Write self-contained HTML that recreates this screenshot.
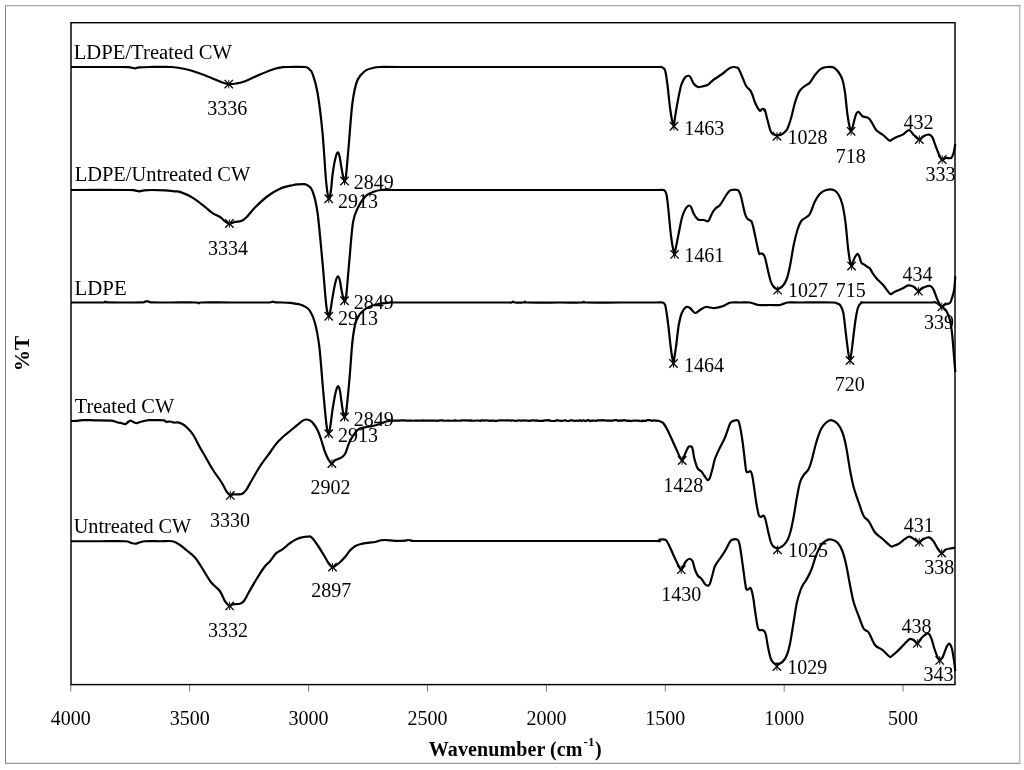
<!DOCTYPE html>
<html lang="en"><head><meta charset="utf-8"><title>FTIR spectra</title>
<style>
html,body{margin:0;padding:0;background:#fff;}
body{width:1024px;height:770px;overflow:hidden;}
svg{display:block;}
text{font-family:"Liberation Serif","Times New Roman",serif;font-size:20px;fill:#000;}
.b{font-weight:bold;}
.c{fill:none;stroke:#000;stroke-width:2.2;stroke-linejoin:round;stroke-linecap:butt;}
</style></head><body>
<svg width="1024" height="770" viewBox="0 0 1024 770">
<rect x="0" y="0" width="1024" height="770" fill="#fff"/>
<path d="M5.5 5.1V763.8M5 763.3H1020.3" fill="none" stroke="#808080" stroke-width="1"/>
<path d="M5 5.6H1020.3M1019.8 5.1V763.8" fill="none" stroke="#a6a6a6" stroke-width="1.1"/>

<g stroke="#777" stroke-width="1">
<line x1="70.80" y1="685" x2="70.80" y2="691.5"/>
<line x1="189.70" y1="685" x2="189.70" y2="691.5"/>
<line x1="308.60" y1="685" x2="308.60" y2="691.5"/>
<line x1="427.50" y1="685" x2="427.50" y2="691.5"/>
<line x1="546.40" y1="685" x2="546.40" y2="691.5"/>
<line x1="665.30" y1="685" x2="665.30" y2="691.5"/>
<line x1="784.20" y1="685" x2="784.20" y2="691.5"/>
<line x1="903.10" y1="685" x2="903.10" y2="691.5"/>
</g>
<path class="c" d="M71.00 67.00C79.17 67.00 110.17 66.95 120.00 67.00C129.83 67.05 127.50 67.07 130.00 67.30C132.50 67.53 133.50 68.38 135.00 68.40C136.50 68.42 136.50 67.63 139.00 67.40C141.50 67.17 144.50 67.07 150.00 67.00C155.50 66.93 166.17 66.67 172.00 67.00C177.83 67.33 180.33 67.92 185.00 69.00C189.67 70.08 195.00 71.75 200.00 73.50C205.00 75.25 211.00 77.92 215.00 79.50C219.00 81.08 221.71 82.23 224.00 83.00C226.29 83.77 226.75 84.02 228.75 84.10C230.75 84.18 233.29 83.97 236.00 83.50C238.71 83.03 241.00 82.75 245.00 81.25C249.00 79.75 255.00 76.58 260.00 74.50C265.00 72.42 271.25 69.97 275.00 68.75C278.75 67.53 280.00 67.49 282.50 67.20C285.00 66.91 286.25 67.03 290.00 67.00C293.75 66.97 301.83 66.67 305.00 67.00C308.17 67.33 307.75 67.88 309.00 69.00C310.25 70.12 311.08 69.83 312.50 73.75C313.92 77.67 315.83 82.71 317.50 92.50C319.17 102.29 321.08 117.92 322.50 132.50C323.92 147.08 324.96 168.96 326.00 180.00C327.04 191.04 327.92 197.08 328.75 198.75C329.58 200.42 330.38 193.96 331.00 190.00C331.62 186.04 331.83 180.00 332.50 175.00C333.17 170.00 334.17 163.75 335.00 160.00C335.83 156.25 336.75 153.17 337.50 152.50C338.25 151.83 338.92 153.92 339.50 156.00C340.08 158.08 340.42 161.67 341.00 165.00C341.58 168.33 342.42 173.33 343.00 176.00C343.58 178.67 344.00 181.00 344.50 181.00C345.00 181.00 345.29 182.00 346.00 176.00C346.71 170.00 347.67 157.25 348.75 145.00C349.83 132.75 351.04 113.33 352.50 102.50C353.96 91.67 355.42 85.25 357.50 80.00C359.58 74.75 362.58 72.97 365.00 71.00C367.42 69.03 369.50 68.87 372.00 68.20C374.50 67.53 375.33 67.20 380.00 67.00C384.67 66.80 380.00 67.00 400.00 67.00C420.00 67.00 466.67 67.00 500.00 67.00C533.33 67.00 574.17 67.00 600.00 67.00C625.83 67.00 644.79 67.00 655.00 67.00C665.21 67.00 659.75 66.75 661.25 67.00C662.75 67.25 663.29 67.67 664.00 68.50C664.71 69.33 664.92 69.25 665.50 72.00C666.08 74.75 666.75 79.08 667.50 85.00C668.25 90.92 669.25 101.67 670.00 107.50C670.75 113.33 671.35 116.88 672.00 120.00C672.65 123.12 673.48 126.08 673.90 126.25C674.32 126.42 673.90 124.96 674.50 121.00C675.10 117.04 676.38 108.50 677.50 102.50C678.62 96.50 680.00 89.17 681.25 85.00C682.50 80.83 683.75 79.04 685.00 77.50C686.25 75.96 687.75 75.67 688.75 75.75C689.75 75.83 690.17 76.67 691.00 78.00C691.83 79.33 692.58 82.25 693.75 83.75C694.92 85.25 696.62 86.54 698.00 87.00C699.38 87.46 700.42 86.83 702.00 86.50C703.58 86.17 706.00 85.75 707.50 85.00C709.00 84.25 709.75 83.04 711.00 82.00C712.25 80.96 713.08 80.12 715.00 78.75C716.92 77.38 720.50 75.21 722.50 73.75C724.50 72.29 725.75 70.96 727.00 70.00C728.25 69.04 728.88 68.50 730.00 68.00C731.12 67.50 732.67 67.08 733.75 67.00C734.83 66.92 735.67 67.17 736.50 67.50C737.33 67.83 737.75 67.33 738.75 69.00C739.75 70.67 741.25 74.62 742.50 77.50C743.75 80.38 745.00 84.17 746.25 86.25C747.50 88.33 748.96 88.54 750.00 90.00C751.04 91.46 751.67 92.92 752.50 95.00C753.33 97.08 753.83 99.92 755.00 102.50C756.17 105.08 758.42 109.33 759.50 110.50C760.58 111.67 760.92 109.79 761.50 109.50C762.08 109.21 762.50 108.58 763.00 108.75C763.50 108.92 764.17 110.29 764.50 110.50C764.83 110.71 764.50 108.42 765.00 110.00C765.50 111.58 766.57 116.50 767.50 120.00C768.43 123.50 769.60 128.60 770.60 131.00C771.60 133.40 772.43 133.67 773.50 134.40C774.57 135.13 775.75 135.33 777.00 135.40C778.25 135.47 779.75 135.32 781.00 134.80C782.25 134.28 783.42 133.35 784.50 132.30C785.58 131.25 786.38 130.97 787.50 128.50C788.62 126.03 790.00 121.83 791.25 117.50C792.50 113.17 793.75 106.67 795.00 102.50C796.25 98.33 797.50 94.95 798.75 92.50C800.00 90.05 801.29 89.00 802.50 87.80C803.71 86.60 804.75 86.18 806.00 85.30C807.25 84.42 808.50 84.22 810.00 82.50C811.50 80.78 813.33 77.17 815.00 75.00C816.67 72.83 818.50 70.75 820.00 69.50C821.50 68.25 822.75 67.92 824.00 67.50C825.25 67.08 825.88 67.00 827.50 67.00C829.12 67.00 831.88 66.58 833.75 67.50C835.62 68.42 837.29 70.42 838.75 72.50C840.21 74.58 841.46 76.67 842.50 80.00C843.54 83.33 844.17 86.67 845.00 92.50C845.83 98.33 846.67 108.96 847.50 115.00C848.33 121.04 849.40 126.03 850.00 128.75C850.60 131.47 850.68 131.43 851.10 131.30C851.52 131.18 852.06 129.47 852.50 128.00C852.94 126.53 853.12 124.88 853.75 122.50C854.38 120.12 855.42 115.50 856.25 113.75C857.08 112.00 857.71 111.58 858.75 112.00C859.79 112.42 861.04 115.33 862.50 116.25C863.96 117.17 866.25 116.92 867.50 117.50C868.75 118.08 869.17 118.66 870.00 119.70C870.83 120.74 871.40 121.93 872.50 123.75C873.60 125.57 874.83 128.72 876.60 130.60C878.37 132.47 880.98 133.35 883.10 135.00C885.22 136.65 887.82 139.75 889.30 140.50C890.78 141.25 890.83 140.05 892.00 139.50C893.17 138.95 894.50 138.02 896.30 137.20C898.10 136.38 900.68 135.77 902.80 134.60C904.92 133.43 907.17 130.13 909.00 130.20C910.83 130.27 912.08 133.43 913.80 135.00C915.52 136.57 917.85 139.23 919.30 139.60C920.75 139.97 921.38 137.97 922.50 137.20C923.62 136.43 924.90 135.43 926.00 135.00C927.10 134.57 928.03 134.23 929.10 134.60C930.17 134.97 931.32 135.30 932.40 137.20C933.48 139.10 934.33 142.72 935.60 146.00C936.87 149.28 938.89 154.65 940.00 156.90C941.11 159.15 941.21 159.32 942.25 159.50C943.29 159.68 944.75 158.27 946.25 158.00C947.75 157.73 950.00 158.85 951.25 157.90C952.50 156.95 953.08 154.65 953.75 152.30C954.42 149.95 955.04 145.22 955.30 143.80"/>
<path class="c" d="M71.00 190.00C80.50 190.00 117.42 189.93 128.00 190.00C138.58 190.07 132.58 190.18 134.50 190.40C136.42 190.62 137.92 191.32 139.50 191.30C141.08 191.28 141.92 190.52 144.00 190.30C146.08 190.08 148.50 190.00 152.00 190.00C155.50 190.00 161.17 190.08 165.00 190.30C168.83 190.52 172.50 191.03 175.00 191.30C177.50 191.57 177.08 190.85 180.00 191.90C182.92 192.95 188.33 195.10 192.50 197.60C196.67 200.10 201.67 204.32 205.00 206.90C208.33 209.48 210.00 211.43 212.50 213.10C215.00 214.77 217.92 215.54 220.00 216.90C222.08 218.26 223.43 220.15 225.00 221.25C226.57 222.35 227.73 223.39 229.40 223.50C231.07 223.61 233.03 222.32 235.00 221.90C236.97 221.48 239.38 221.73 241.25 221.00C243.12 220.27 243.96 219.75 246.25 217.50C248.54 215.25 251.46 211.04 255.00 207.50C258.54 203.96 263.33 199.38 267.50 196.25C271.67 193.12 275.83 190.59 280.00 188.75C284.17 186.91 289.50 185.94 292.50 185.20C295.50 184.46 296.12 184.48 298.00 184.30C299.88 184.12 302.17 183.92 303.75 184.10C305.33 184.28 306.04 184.25 307.50 185.40C308.96 186.55 310.83 186.48 312.50 191.00C314.17 195.52 315.83 200.58 317.50 212.50C319.17 224.42 321.04 247.08 322.50 262.50C323.96 277.92 325.21 296.04 326.25 305.00C327.29 313.96 328.04 315.42 328.75 316.25C329.46 317.08 329.88 313.12 330.50 310.00C331.12 306.88 331.67 302.17 332.50 297.50C333.33 292.83 334.58 285.54 335.50 282.00C336.42 278.46 337.25 276.42 338.00 276.25C338.75 276.08 339.46 278.92 340.00 281.00C340.54 283.08 340.75 286.08 341.25 288.75C341.75 291.42 342.46 295.00 343.00 297.00C343.54 299.00 343.97 300.92 344.50 300.75C345.03 300.58 345.42 302.38 346.20 296.00C346.98 289.62 348.07 274.75 349.20 262.50C350.33 250.25 351.53 231.67 353.00 222.50C354.47 213.33 355.92 211.87 358.00 207.50C360.08 203.13 363.08 198.83 365.50 196.30C367.92 193.77 369.92 193.35 372.50 192.30C375.08 191.25 376.42 190.38 381.00 190.00C385.58 189.62 380.17 190.00 400.00 190.00C419.83 190.00 466.67 190.00 500.00 190.00C533.33 190.00 574.17 190.00 600.00 190.00C625.83 190.00 644.47 190.00 655.00 190.00C665.53 190.00 661.48 189.75 663.20 190.00C664.92 190.25 664.70 190.50 665.30 191.50C665.90 192.50 666.28 192.92 666.80 196.00C667.32 199.08 667.72 203.50 668.40 210.00C669.08 216.50 670.15 228.67 670.90 235.00C671.65 241.33 672.28 244.77 672.90 248.00C673.52 251.23 674.15 254.23 674.60 254.40C675.05 254.57 674.97 252.23 675.60 249.00C676.23 245.77 677.33 240.25 678.40 235.00C679.47 229.75 680.80 221.88 682.00 217.50C683.20 213.12 684.39 210.75 685.60 208.75C686.81 206.75 688.27 205.62 689.25 205.50C690.23 205.38 690.75 206.62 691.50 208.00C692.25 209.38 692.67 211.83 693.75 213.75C694.83 215.67 696.33 218.46 698.00 219.50C699.67 220.54 702.08 219.71 703.75 220.00C705.42 220.29 706.96 221.58 708.00 221.25C709.04 220.92 709.25 219.46 710.00 218.00C710.75 216.54 711.50 214.17 712.50 212.50C713.50 210.83 714.75 209.25 716.00 208.00C717.25 206.75 718.29 207.17 720.00 205.00C721.71 202.83 724.75 197.25 726.25 195.00C727.75 192.75 728.17 192.33 729.00 191.50C729.83 190.67 729.83 190.25 731.25 190.00C732.67 189.75 736.12 189.58 737.50 190.00C738.88 190.42 738.88 191.25 739.50 192.50C740.12 193.75 740.33 193.96 741.25 197.50C742.17 201.04 743.96 210.21 745.00 213.75C746.04 217.29 746.46 217.50 747.50 218.75C748.54 220.00 750.33 220.04 751.25 221.25C752.17 222.46 752.38 223.71 753.00 226.00C753.62 228.29 754.04 230.58 755.00 235.00C755.96 239.42 757.83 249.42 758.75 252.50C759.67 255.58 759.88 253.29 760.50 253.50C761.12 253.71 761.75 253.08 762.50 253.75C763.25 254.42 764.17 255.04 765.00 257.50C765.83 259.96 766.57 264.58 767.50 268.50C768.43 272.42 769.56 277.92 770.60 281.00C771.64 284.08 772.57 285.68 773.75 287.00C774.93 288.32 776.24 289.02 777.70 288.90C779.16 288.78 780.97 288.03 782.50 286.30C784.03 284.57 785.65 281.88 786.90 278.50C788.15 275.12 788.86 271.62 790.00 266.00C791.14 260.38 792.50 250.79 793.75 244.75C795.00 238.71 796.25 233.71 797.50 229.75C798.75 225.79 799.79 223.08 801.25 221.00C802.71 218.92 804.79 218.46 806.25 217.25C807.71 216.04 808.54 216.42 810.00 213.75C811.46 211.08 813.33 204.58 815.00 201.25C816.67 197.92 818.12 195.62 820.00 193.75C821.88 191.88 823.96 190.62 826.25 190.00C828.54 189.38 831.67 189.17 833.75 190.00C835.83 190.83 837.29 192.50 838.75 195.00C840.21 197.50 841.38 200.42 842.50 205.00C843.62 209.58 844.58 215.42 845.50 222.50C846.42 229.58 847.25 241.04 848.00 247.50C848.75 253.96 849.40 258.15 850.00 261.25C850.60 264.35 851.10 265.98 851.60 266.10C852.10 266.23 852.52 263.35 853.00 262.00C853.48 260.65 853.75 259.38 854.50 258.00C855.25 256.62 856.67 253.92 857.50 253.75C858.33 253.58 858.88 255.54 859.50 257.00C860.12 258.46 860.60 261.30 861.25 262.50C861.90 263.70 862.36 263.45 863.40 264.20C864.44 264.95 866.40 266.28 867.50 267.00C868.60 267.72 869.17 267.50 870.00 268.50C870.83 269.50 871.40 271.35 872.50 273.00C873.60 274.65 874.83 276.40 876.60 278.40C878.37 280.40 880.85 282.43 883.10 285.00C885.35 287.57 888.45 292.50 890.10 293.80C891.75 295.10 891.97 293.25 893.00 292.80C894.03 292.35 894.67 291.85 896.30 291.10C897.93 290.35 900.80 289.25 902.80 288.30C904.80 287.35 906.47 285.65 908.30 285.40C910.13 285.15 912.12 285.83 913.80 286.80C915.48 287.77 917.28 290.75 918.40 291.20C919.52 291.65 919.63 290.10 920.50 289.50C921.37 288.90 922.52 288.13 923.60 287.60C924.68 287.07 925.90 286.55 927.00 286.30C928.10 286.05 929.12 285.58 930.20 286.10C931.28 286.62 932.42 287.40 933.50 289.40C934.58 291.40 935.62 295.55 936.70 298.10C937.78 300.65 939.15 303.23 940.00 304.70C940.85 306.17 940.88 306.97 941.80 306.90C942.72 306.83 944.15 304.95 945.50 304.30C946.85 303.65 948.82 304.05 949.90 303.00C950.98 301.95 951.28 300.27 952.00 298.00C952.72 295.73 953.65 293.02 954.20 289.40C954.75 285.78 955.12 278.48 955.30 276.30"/>
<path class="c" d="M71.00 302.50C75.83 302.50 94.50 302.52 100.00 302.50C105.50 302.48 103.08 302.55 104.00 302.40C104.92 302.25 105.00 301.60 105.50 301.60C106.00 301.60 103.75 302.25 107.00 302.40C110.25 302.55 119.00 302.50 125.00 302.50C131.00 302.50 139.67 302.57 143.00 302.40C146.33 302.23 144.00 301.65 145.00 301.50C146.00 301.35 148.00 301.35 149.00 301.50C150.00 301.65 147.50 302.23 151.00 302.40C154.50 302.57 162.50 302.48 170.00 302.50C177.50 302.52 191.25 302.37 196.00 302.50C200.75 302.63 197.67 303.30 198.50 303.30C199.33 303.30 195.75 302.63 201.00 302.50C206.25 302.37 219.33 302.50 230.00 302.50C240.67 302.50 258.33 302.52 265.00 302.50C271.67 302.48 268.67 302.53 270.00 302.40C271.33 302.27 272.00 301.72 273.00 301.70C274.00 301.68 273.17 302.12 276.00 302.30C278.83 302.48 286.83 302.58 290.00 302.80C293.17 303.02 293.33 303.32 295.00 303.60C296.67 303.88 298.33 304.00 300.00 304.50C301.67 305.00 303.33 305.52 305.00 306.60C306.67 307.68 308.33 308.27 310.00 311.00C311.67 313.73 313.43 316.92 315.00 323.00C316.57 329.08 318.05 336.33 319.40 347.50C320.75 358.67 321.92 377.08 323.10 390.00C324.28 402.92 325.56 417.71 326.50 425.00C327.44 432.29 328.08 433.75 328.75 433.75C329.42 433.75 329.88 428.96 330.50 425.00C331.12 421.04 331.67 415.33 332.50 410.00C333.33 404.67 334.58 396.96 335.50 393.00C336.42 389.04 337.25 386.58 338.00 386.25C338.75 385.92 339.46 388.71 340.00 391.00C340.54 393.29 340.75 396.50 341.25 400.00C341.75 403.50 342.46 409.17 343.00 412.00C343.54 414.83 343.95 417.17 344.50 417.00C345.05 416.83 345.45 417.58 346.30 411.00C347.15 404.42 348.55 389.33 349.60 377.50C350.65 365.67 351.45 349.58 352.60 340.00C353.75 330.42 354.60 325.00 356.50 320.00C358.40 315.00 360.75 312.58 364.00 310.00C367.25 307.42 371.50 305.75 376.00 304.50C380.50 303.25 387.00 302.83 391.00 302.50C395.00 302.17 381.83 302.50 400.00 302.50C418.17 302.50 481.50 302.50 500.00 302.50C518.50 302.50 508.83 302.65 511.00 302.50C513.17 302.35 512.33 301.60 513.00 301.60C513.67 301.60 513.33 302.35 515.00 302.50C516.67 302.65 521.33 302.63 523.00 302.50C524.67 302.37 524.33 301.70 525.00 301.70C525.67 301.70 521.17 302.37 527.00 302.50C532.83 302.63 550.83 302.50 560.00 302.50C569.17 302.50 578.00 302.62 582.00 302.50C586.00 302.38 583.33 301.80 584.00 301.80C584.67 301.80 580.00 302.38 586.00 302.50C592.00 302.62 608.50 302.50 620.00 302.50C631.50 302.50 647.92 302.50 655.00 302.50C662.08 302.50 660.92 302.25 662.50 302.50C664.08 302.75 663.96 303.17 664.50 304.00C665.04 304.83 665.12 304.00 665.75 307.50C666.38 311.00 667.42 318.33 668.25 325.00C669.08 331.67 670.08 342.00 670.75 347.50C671.42 353.00 671.84 355.33 672.30 358.00C672.76 360.67 673.17 363.50 673.50 363.50C673.83 363.50 673.84 361.08 674.30 358.00C674.76 354.92 675.51 350.50 676.25 345.00C676.99 339.50 677.79 330.42 678.75 325.00C679.71 319.58 680.75 315.50 682.00 312.50C683.25 309.50 684.92 307.75 686.25 307.00C687.58 306.25 688.54 307.00 690.00 308.00C691.46 309.00 693.33 312.67 695.00 313.00C696.67 313.33 698.25 311.00 700.00 310.00C701.75 309.00 703.83 307.42 705.50 307.00C707.17 306.58 708.42 307.33 710.00 307.50C711.58 307.67 712.92 308.21 715.00 308.00C717.08 307.79 720.42 306.96 722.50 306.25C724.58 305.54 726.04 304.38 727.50 303.75C728.96 303.12 729.17 302.71 731.25 302.50C733.33 302.29 736.88 302.50 740.00 302.50C743.12 302.50 746.88 302.08 750.00 302.50C753.12 302.92 755.42 304.58 758.75 305.00C762.08 305.42 766.46 305.00 770.00 305.00C773.54 305.00 777.08 305.42 780.00 305.00C782.92 304.58 784.17 302.92 787.50 302.50C790.83 302.08 792.50 302.50 800.00 302.50C807.50 302.50 826.33 302.33 832.50 302.50C838.67 302.67 835.75 303.08 837.00 303.50C838.25 303.92 838.96 303.50 840.00 305.00C841.04 306.50 842.29 307.92 843.25 312.50C844.21 317.08 844.92 325.83 845.75 332.50C846.58 339.17 847.54 347.83 848.25 352.50C848.96 357.17 849.46 360.58 850.00 360.50C850.54 360.42 851.00 355.42 851.50 352.00C852.00 348.58 852.33 345.33 853.00 340.00C853.67 334.67 854.67 325.42 855.50 320.00C856.33 314.58 857.04 310.37 858.00 307.50C858.96 304.63 860.08 303.63 861.25 302.80C862.42 301.97 858.54 302.55 865.00 302.50C871.46 302.45 889.17 302.50 900.00 302.50C910.83 302.50 924.07 302.50 930.00 302.50C935.93 302.50 933.63 301.77 935.60 302.50C937.57 303.23 939.97 305.43 941.80 306.90C943.63 308.37 945.25 309.12 946.60 311.30C947.95 313.48 949.00 316.38 949.90 320.00C950.80 323.62 951.40 328.00 952.00 333.00C952.60 338.00 952.95 343.50 953.50 350.00C954.05 356.50 955.00 368.33 955.30 372.00"/>
<path class="c" d="M71.00 541.25C75.83 541.25 91.00 541.25 100.00 541.25C109.00 541.25 120.00 541.04 125.00 541.25C130.00 541.46 128.33 542.08 130.00 542.50C131.67 542.92 133.33 543.78 135.00 543.75C136.67 543.72 138.33 542.72 140.00 542.30C141.67 541.88 141.67 541.42 145.00 541.25C148.33 541.08 155.42 541.25 160.00 541.25C164.58 541.25 169.17 540.62 172.50 541.25C175.83 541.88 177.71 543.54 180.00 545.00C182.29 546.46 183.75 547.92 186.25 550.00C188.75 552.08 192.29 554.38 195.00 557.50C197.71 560.62 199.79 564.58 202.50 568.75C205.21 572.92 208.33 578.75 211.25 582.50C214.17 586.25 217.71 588.12 220.00 591.25C222.29 594.38 223.40 598.81 225.00 601.25C226.60 603.69 228.35 605.38 229.60 605.90C230.85 606.42 230.77 604.76 232.50 604.40C234.23 604.04 238.12 604.27 240.00 603.75C241.88 603.23 242.29 603.12 243.75 601.25C245.21 599.38 246.46 596.46 248.75 592.50C251.04 588.54 254.79 581.88 257.50 577.50C260.21 573.12 262.92 568.96 265.00 566.25C267.08 563.54 268.12 563.44 270.00 561.25C271.88 559.06 274.17 555.08 276.25 553.10C278.33 551.12 280.21 551.07 282.50 549.40C284.79 547.73 287.50 544.88 290.00 543.10C292.50 541.33 295.21 539.77 297.50 538.75C299.79 537.73 302.08 537.34 303.75 537.00C305.42 536.66 306.25 536.68 307.50 536.70C308.75 536.72 309.58 535.72 311.25 537.10C312.92 538.48 315.42 542.02 317.50 545.00C319.58 547.98 321.88 551.92 323.75 555.00C325.62 558.08 327.29 561.48 328.75 563.50C330.21 565.52 331.29 566.80 332.50 567.10C333.71 567.40 334.75 566.10 336.00 565.30C337.25 564.50 338.50 563.68 340.00 562.30C341.50 560.92 343.33 558.97 345.00 557.00C346.67 555.03 348.33 552.28 350.00 550.50C351.67 548.72 353.33 547.35 355.00 546.30C356.67 545.25 357.83 544.78 360.00 544.20C362.17 543.62 365.50 543.17 368.00 542.80C370.50 542.43 373.00 542.38 375.00 542.00C377.00 541.62 378.33 540.83 380.00 540.50C381.67 540.17 382.50 539.95 385.00 540.00C387.50 540.05 391.67 540.68 395.00 540.80C398.33 540.92 402.83 540.83 405.00 540.70C407.17 540.57 406.83 540.00 408.00 540.00C409.17 540.00 410.00 540.53 412.00 540.70C414.00 540.87 405.33 540.95 420.00 541.00C434.67 541.05 470.00 541.00 500.00 541.00C530.00 541.00 574.17 541.00 600.00 541.00C625.83 541.00 645.33 541.00 655.00 541.00C664.67 541.00 657.17 541.22 658.00 541.00C658.83 540.78 658.83 539.93 660.00 539.70C661.17 539.47 663.83 539.30 665.00 539.60C666.17 539.90 666.17 540.23 667.00 541.50C667.83 542.77 668.67 544.42 670.00 547.25C671.33 550.08 673.33 554.96 675.00 558.50C676.67 562.04 678.96 566.63 680.00 568.50C681.04 570.37 680.67 570.20 681.25 569.70C681.83 569.20 682.67 566.95 683.50 565.50C684.33 564.05 685.27 562.12 686.25 561.00C687.23 559.88 688.36 558.75 689.40 558.75C690.44 558.75 691.57 559.17 692.50 561.00C693.43 562.83 694.07 567.25 695.00 569.75C695.93 572.25 697.06 574.54 698.10 576.00C699.14 577.46 700.10 577.15 701.25 578.50C702.40 579.85 703.96 582.89 705.00 584.10C706.04 585.31 706.83 585.60 707.50 585.75C708.17 585.90 708.58 585.38 709.00 585.00C709.42 584.62 709.42 585.21 710.00 583.50C710.58 581.79 711.67 577.67 712.50 574.75C713.33 571.83 713.75 568.71 715.00 566.00C716.25 563.29 718.33 561.00 720.00 558.50C721.67 556.00 723.33 553.82 725.00 551.00C726.67 548.18 728.75 543.50 730.00 541.60C731.25 539.70 731.35 539.95 732.50 539.60C733.65 539.25 735.75 538.85 736.90 539.50C738.05 540.15 738.47 539.50 739.40 543.50C740.33 547.50 741.57 557.08 742.50 563.50C743.43 569.92 744.38 577.75 745.00 582.00C745.62 586.25 745.75 587.75 746.25 589.00C746.75 590.25 747.27 589.67 748.00 589.50C748.73 589.33 749.88 587.42 750.60 588.00C751.32 588.58 751.77 590.83 752.30 593.00C752.82 595.17 753.40 598.79 753.75 601.00C754.10 603.21 753.77 602.04 754.40 606.25C755.02 610.46 756.67 622.29 757.50 626.25C758.33 630.21 758.47 629.33 759.40 630.00C760.33 630.67 762.07 629.62 763.10 630.25C764.13 630.88 764.77 630.88 765.60 633.75C766.43 636.62 767.27 643.44 768.10 647.50C768.93 651.56 769.77 655.60 770.60 658.10C771.43 660.60 771.95 661.52 773.10 662.50C774.25 663.48 775.93 664.10 777.50 664.00C779.07 663.90 780.93 663.40 782.50 661.90C784.07 660.40 785.65 658.02 786.90 655.00C788.15 651.98 788.86 649.38 790.00 643.75C791.14 638.12 792.60 628.12 793.75 621.25C794.90 614.38 795.76 607.71 796.90 602.50C798.04 597.29 799.50 593.08 800.60 590.00C801.70 586.92 802.56 585.67 803.50 584.00C804.44 582.33 804.96 582.33 806.25 580.00C807.54 577.67 809.58 574.17 811.25 570.00C812.92 565.83 814.58 559.17 816.25 555.00C817.92 550.83 819.58 547.42 821.25 545.00C822.92 542.58 824.58 541.42 826.25 540.50C827.92 539.58 829.38 539.17 831.25 539.50C833.12 539.83 835.62 540.54 837.50 542.50C839.38 544.46 841.04 547.50 842.50 551.25C843.96 555.00 845.00 559.38 846.25 565.00C847.50 570.62 848.75 578.75 850.00 585.00C851.25 591.25 852.29 597.29 853.75 602.50C855.21 607.71 857.08 611.88 858.75 616.25C860.42 620.62 862.08 626.04 863.75 628.75C865.42 631.46 866.88 629.79 868.75 632.50C870.62 635.21 872.71 642.08 875.00 645.00C877.29 647.92 880.05 648.05 882.50 650.00C884.95 651.95 887.95 655.87 889.70 656.70C891.45 657.53 891.90 655.73 893.00 655.00C894.10 654.27 894.67 653.83 896.30 652.30C897.93 650.77 900.62 647.98 902.80 645.80C904.98 643.62 907.57 640.12 909.40 639.20C911.23 638.28 912.42 639.60 913.75 640.30C915.08 641.00 916.36 643.45 917.40 643.40C918.44 643.35 919.15 641.07 920.00 640.00C920.85 638.93 921.17 638.12 922.50 637.00C923.83 635.88 926.54 633.12 928.00 633.30C929.46 633.48 930.17 635.48 931.25 638.10C932.33 640.72 933.41 645.72 934.50 649.00C935.59 652.28 936.93 655.90 937.80 657.80C938.67 659.70 939.12 660.20 939.70 660.40C940.28 660.60 940.70 659.80 941.30 659.00C941.90 658.20 942.42 657.62 943.30 655.60C944.18 653.58 945.62 648.90 946.60 646.90C947.58 644.90 948.30 643.25 949.20 643.60C950.10 643.95 951.17 645.90 952.00 649.00C952.83 652.10 953.65 658.53 954.20 662.20C954.75 665.87 955.12 669.53 955.30 671.00"/>
<path class="c" d="M71.00 421.00C71.83 420.98 74.04 421.05 76.00 420.90C77.96 420.75 79.58 420.20 82.75 420.10C85.92 420.00 90.21 420.22 95.00 420.30C99.79 420.38 107.71 420.23 111.50 420.60C115.29 420.97 116.00 422.07 117.75 422.50C119.50 422.93 120.75 422.92 122.00 423.20C123.25 423.48 124.33 424.32 125.25 424.20C126.17 424.08 126.67 423.10 127.50 422.50C128.33 421.90 129.25 420.68 130.25 420.60C131.25 420.52 132.46 421.58 133.50 422.00C134.54 422.42 135.42 423.10 136.50 423.10C137.58 423.10 138.75 422.35 140.00 422.00C141.25 421.65 142.50 421.32 144.00 421.00C145.50 420.68 146.83 420.25 149.00 420.10C151.17 419.95 154.50 420.07 157.00 420.10C159.50 420.13 162.42 420.02 164.00 420.30C165.58 420.58 165.46 421.60 166.50 421.80C167.54 422.00 169.00 421.38 170.25 421.50C171.50 421.62 172.54 422.32 174.00 422.50C175.46 422.68 177.33 422.18 179.00 422.60C180.67 423.02 182.50 424.02 184.00 425.00C185.50 425.98 186.67 427.15 188.00 428.50C189.33 429.85 190.83 431.52 192.00 433.10C193.17 434.68 193.67 435.60 195.00 438.00C196.33 440.40 198.33 444.50 200.00 447.50C201.67 450.50 203.33 453.08 205.00 456.00C206.67 458.92 208.33 462.17 210.00 465.00C211.67 467.83 213.33 470.50 215.00 473.00C216.67 475.50 218.54 477.79 220.00 480.00C221.46 482.21 222.67 484.37 223.75 486.25C224.83 488.13 225.41 489.78 226.50 491.30C227.59 492.82 229.22 494.88 230.30 495.40C231.38 495.92 231.22 494.60 233.00 494.40C234.78 494.20 239.17 494.55 241.00 494.20C242.83 493.85 243.08 493.08 244.00 492.30C244.92 491.52 245.29 491.34 246.50 489.50C247.71 487.66 249.00 485.12 251.25 481.25C253.50 477.38 256.88 471.04 260.00 466.25C263.12 461.46 267.29 456.25 270.00 452.50C272.71 448.75 274.38 446.08 276.25 443.75C278.12 441.42 279.79 439.96 281.25 438.50C282.71 437.04 283.54 436.25 285.00 435.00C286.46 433.75 288.33 432.35 290.00 431.00C291.67 429.65 292.92 428.60 295.00 426.90C297.08 425.20 300.62 422.03 302.50 420.80C304.38 419.57 305.08 419.58 306.25 419.50C307.42 419.42 308.46 419.80 309.50 420.30C310.54 420.80 311.17 420.88 312.50 422.50C313.83 424.12 316.04 427.08 317.50 430.00C318.96 432.92 320.00 436.33 321.25 440.00C322.50 443.67 323.75 448.67 325.00 452.00C326.25 455.33 327.60 458.08 328.75 460.00C329.90 461.92 330.86 463.45 331.90 463.50C332.94 463.55 333.44 461.28 335.00 460.30C336.56 459.32 339.58 458.65 341.25 457.60C342.92 456.55 343.96 455.68 345.00 454.00C346.04 452.32 346.58 449.83 347.50 447.50C348.42 445.17 348.83 442.92 350.50 440.00C352.17 437.08 355.08 432.13 357.50 430.00C359.92 427.87 362.58 427.83 365.00 427.20C367.42 426.57 369.50 426.73 372.00 426.20C374.50 425.67 377.50 424.83 380.00 424.00C382.50 423.17 384.50 421.77 387.00 421.20C389.50 420.63 393.67 420.70 395.00 420.60L397.00 420.55L398.35 420.65L399.62 420.61L401.19 420.47L402.90 420.46L404.53 420.47L405.82 420.58L407.85 420.49L409.27 420.64L411.42 420.62L413.02 420.74L414.26 420.71L415.75 420.49L417.07 420.54L419.09 420.50L420.87 420.64L422.44 420.61L423.70 420.46L425.11 420.66L426.74 420.54L428.52 420.58L430.02 420.70L431.92 420.51L433.69 420.61L435.77 420.69L437.26 420.78L438.58 420.57L440.53 420.46L442.22 420.42L444.09 420.71L445.86 420.76L447.38 420.68L449.17 420.63L450.83 420.75L452.97 420.59L454.84 420.40L456.74 420.67L458.93 420.75L460.42 420.54L462.28 420.37L463.95 420.43L465.26 420.38L467.23 420.41L468.68 420.54L470.75 420.38L472.40 420.63L474.48 420.77L476.55 420.48L478.16 420.52L480.25 420.86L481.60 420.41L483.03 420.44L484.71 420.65L486.18 420.30L487.80 420.52L489.56 420.88L491.45 420.61L493.27 420.71L494.52 420.85L496.50 420.84L498.50 420.53L500.10 420.34L501.94 420.31L503.20 420.40L504.56 420.49L505.82 420.26L507.17 420.32L508.73 420.27L510.81 420.68L512.16 420.42L513.70 420.50L515.03 420.85L517.22 420.57L518.90 420.29L520.20 420.48L521.67 420.85L523.03 420.24L525.18 420.62L526.53 420.63L527.76 420.62L529.93 420.89L531.83 420.41L533.40 420.33L535.37 420.63L537.35 420.46L538.77 420.86L540.96 420.90L542.96 420.87L544.90 420.36L546.62 420.47L547.85 420.19L549.33 420.39L551.22 421.01L552.87 420.99L555.06 421.01L556.62 420.34L558.05 420.32L559.45 420.72L561.55 420.92L563.23 420.74L565.23 420.20L567.09 420.99L569.07 420.84L570.75 420.29L572.74 420.43L574.74 421.07L576.34 420.50L578.48 420.83L579.85 420.22L581.21 421.02L583.21 420.23L585.24 421.10L587.10 420.44L588.84 420.21L590.06 421.10L591.91 420.63L594.04 420.53L596.11 420.96L597.52 420.33L599.02 420.31L600.80 420.33L602.42 420.19L604.53 420.43L606.19 420.69L608.30 420.51L610.41 420.60L612.15 420.63L613.36 420.53L614.75 420.02L616.75 420.21L618.42 420.87L620.18 420.39L621.89 420.67L623.88 420.13L625.64 420.30L627.12 420.93L628.82 420.67L630.78 421.09L632.43 420.74L634.13 420.61L636.03 420.54L637.76 420.57L639.90 420.84L641.98 421.13L643.44 420.67L645.58 421.01L646.92 420.15L648.56 420.09L650.00 420.09L651.87 420.94L653.97 420.19L655.88 420.79L657.50 420.60C658.08 420.80 659.96 421.28 661.00 421.80C662.04 422.32 662.67 422.38 663.75 423.75C664.83 425.12 665.62 426.25 667.50 430.00C669.38 433.75 672.92 441.67 675.00 446.25C677.08 450.83 678.80 455.12 680.00 457.50C681.20 459.88 681.53 460.67 682.20 460.50C682.87 460.33 683.33 458.04 684.00 456.50C684.67 454.96 685.58 452.73 686.25 451.25C686.92 449.77 687.48 448.43 688.00 447.60C688.52 446.78 688.75 446.40 689.40 446.30C690.05 446.20 691.30 446.22 691.90 447.00C692.50 447.78 692.58 449.04 693.00 451.00C693.42 452.96 693.65 455.90 694.40 458.75C695.15 461.60 696.36 466.02 697.50 468.10C698.64 470.18 700.08 469.93 701.25 471.25C702.42 472.57 703.46 474.54 704.50 476.00C705.54 477.46 706.75 479.45 707.50 480.00C708.25 480.55 708.58 479.72 709.00 479.30C709.42 478.88 709.42 479.26 710.00 477.50C710.58 475.74 711.67 471.88 712.50 468.75C713.33 465.62 713.75 462.29 715.00 458.75C716.25 455.21 718.33 451.04 720.00 447.50C721.67 443.96 723.33 441.46 725.00 437.50C726.67 433.54 728.75 426.46 730.00 423.75C731.25 421.04 731.67 421.79 732.50 421.25C733.33 420.71 734.17 420.66 735.00 420.50C735.83 420.34 736.77 419.76 737.50 420.30C738.23 420.84 738.57 420.26 739.40 423.75C740.23 427.24 741.57 434.88 742.50 441.25C743.43 447.62 744.38 457.00 745.00 462.00C745.62 467.00 745.75 469.58 746.25 471.25C746.75 472.92 747.27 471.99 748.00 472.00C748.73 472.01 749.88 470.63 750.60 471.30C751.32 471.97 751.77 473.72 752.30 476.00C752.82 478.28 753.09 480.58 753.75 485.00C754.41 489.42 755.42 497.50 756.25 502.50C757.08 507.50 758.02 512.60 758.75 515.00C759.48 517.40 759.77 516.80 760.60 516.90C761.43 517.00 762.92 515.08 763.75 515.60C764.58 516.12 764.88 517.39 765.60 520.00C766.33 522.61 767.27 527.71 768.10 531.25C768.93 534.79 769.77 538.75 770.60 541.25C771.43 543.75 771.95 545.11 773.10 546.25C774.25 547.39 775.93 548.10 777.50 548.10C779.07 548.10 780.83 547.60 782.50 546.25C784.17 544.90 786.15 542.50 787.50 540.00C788.85 537.50 789.56 535.21 790.60 531.25C791.64 527.29 792.70 521.88 793.75 516.25C794.80 510.62 795.86 503.12 796.90 497.50C797.94 491.88 798.86 486.25 800.00 482.50C801.14 478.75 802.40 477.08 803.75 475.00C805.10 472.92 806.85 472.17 808.10 470.00C809.35 467.83 809.89 466.58 811.25 462.00C812.61 457.42 814.58 448.04 816.25 442.50C817.92 436.96 819.58 432.08 821.25 428.75C822.92 425.42 824.58 423.93 826.25 422.50C827.92 421.07 829.38 419.99 831.25 420.20C833.12 420.41 835.62 421.70 837.50 423.75C839.38 425.80 841.04 428.54 842.50 432.50C843.96 436.46 845.00 441.25 846.25 447.50C847.50 453.75 848.75 463.33 850.00 470.00C851.25 476.67 852.29 482.08 853.75 487.50C855.21 492.92 857.08 497.71 858.75 502.50C860.42 507.29 862.08 513.12 863.75 516.25C865.42 519.38 866.88 518.54 868.75 521.25C870.62 523.96 872.71 529.58 875.00 532.50C877.29 535.42 879.87 536.48 882.50 538.75C885.13 541.02 888.88 544.94 890.80 546.10C892.72 547.26 892.73 546.05 894.00 545.70C895.27 545.35 896.57 545.13 898.40 544.00C900.23 542.87 903.17 540.12 905.00 538.90C906.83 537.68 907.77 536.58 909.40 536.70C911.03 536.82 913.17 538.68 914.80 539.60C916.43 540.52 917.73 542.32 919.20 542.20C920.67 542.08 921.95 539.70 923.60 538.90C925.25 538.10 927.47 537.03 929.10 537.40C930.73 537.77 931.95 539.21 933.40 541.10C934.85 542.99 936.41 546.75 937.80 548.75C939.19 550.75 940.47 552.93 941.75 553.10C943.03 553.27 943.98 550.60 945.50 549.80C947.02 549.00 949.27 548.65 950.90 548.30C952.53 547.95 954.57 547.80 955.30 547.70"/>
<rect x="71" y="22.7" width="884" height="661.9" fill="none" stroke="#000" stroke-width="1.45"/>
<g stroke="#000" stroke-width="1.3" fill="none">
<path d="M224.55 79.90 l8.40 8.40 M232.95 79.90 l-8.40 8.40"/>
<path stroke="#111" stroke-width="1" d="M228.75 79.90 v8.40"/>
<path d="M324.55 194.55 l8.40 8.40 M332.95 194.55 l-8.40 8.40"/>
<path stroke="#111" stroke-width="1" d="M328.75 194.55 v8.40"/>
<path d="M340.30 176.80 l8.40 8.40 M348.70 176.80 l-8.40 8.40"/>
<path stroke="#111" stroke-width="1" d="M344.50 176.80 v8.40"/>
<path d="M669.70 122.05 l8.40 8.40 M678.10 122.05 l-8.40 8.40"/>
<path stroke="#111" stroke-width="1" d="M673.90 122.05 v8.40"/>
<path d="M772.80 132.10 l8.40 8.40 M781.20 132.10 l-8.40 8.40"/>
<path stroke="#111" stroke-width="1" d="M777.00 132.10 v8.40"/>
<path d="M846.90 127.10 l8.40 8.40 M855.30 127.10 l-8.40 8.40"/>
<path stroke="#111" stroke-width="1" d="M851.10 127.10 v8.40"/>
<path d="M915.10 135.40 l8.40 8.40 M923.50 135.40 l-8.40 8.40"/>
<path stroke="#111" stroke-width="1" d="M919.30 135.40 v8.40"/>
<path d="M938.05 155.30 l8.40 8.40 M946.45 155.30 l-8.40 8.40"/>
<path stroke="#111" stroke-width="1" d="M942.25 155.30 v8.40"/>
<path d="M225.20 219.30 l8.40 8.40 M233.60 219.30 l-8.40 8.40"/>
<path stroke="#111" stroke-width="1" d="M229.40 219.30 v8.40"/>
<path d="M324.55 312.05 l8.40 8.40 M332.95 312.05 l-8.40 8.40"/>
<path stroke="#111" stroke-width="1" d="M328.75 312.05 v8.40"/>
<path d="M340.30 296.55 l8.40 8.40 M348.70 296.55 l-8.40 8.40"/>
<path stroke="#111" stroke-width="1" d="M344.50 296.55 v8.40"/>
<path d="M670.40 250.20 l8.40 8.40 M678.80 250.20 l-8.40 8.40"/>
<path stroke="#111" stroke-width="1" d="M674.60 250.20 v8.40"/>
<path d="M773.50 286.00 l8.40 8.40 M781.90 286.00 l-8.40 8.40"/>
<path stroke="#111" stroke-width="1" d="M777.70 286.00 v8.40"/>
<path d="M847.40 261.90 l8.40 8.40 M855.80 261.90 l-8.40 8.40"/>
<path stroke="#111" stroke-width="1" d="M851.60 261.90 v8.40"/>
<path d="M914.20 287.00 l8.40 8.40 M922.60 287.00 l-8.40 8.40"/>
<path stroke="#111" stroke-width="1" d="M918.40 287.00 v8.40"/>
<path d="M937.60 302.70 l8.40 8.40 M946.00 302.70 l-8.40 8.40"/>
<path stroke="#111" stroke-width="1" d="M941.80 302.70 v8.40"/>
<path d="M324.55 429.55 l8.40 8.40 M332.95 429.55 l-8.40 8.40"/>
<path stroke="#111" stroke-width="1" d="M328.75 429.55 v8.40"/>
<path d="M340.30 412.80 l8.40 8.40 M348.70 412.80 l-8.40 8.40"/>
<path stroke="#111" stroke-width="1" d="M344.50 412.80 v8.40"/>
<path d="M669.30 359.30 l8.40 8.40 M677.70 359.30 l-8.40 8.40"/>
<path stroke="#111" stroke-width="1" d="M673.50 359.30 v8.40"/>
<path d="M845.80 356.30 l8.40 8.40 M854.20 356.30 l-8.40 8.40"/>
<path stroke="#111" stroke-width="1" d="M850.00 356.30 v8.40"/>
<path d="M226.10 491.20 l8.40 8.40 M234.50 491.20 l-8.40 8.40"/>
<path stroke="#111" stroke-width="1" d="M230.30 491.20 v8.40"/>
<path d="M327.70 459.30 l8.40 8.40 M336.10 459.30 l-8.40 8.40"/>
<path stroke="#111" stroke-width="1" d="M331.90 459.30 v8.40"/>
<path d="M678.00 456.30 l8.40 8.40 M686.40 456.30 l-8.40 8.40"/>
<path stroke="#111" stroke-width="1" d="M682.20 456.30 v8.40"/>
<path d="M773.30 545.60 l8.40 8.40 M781.70 545.60 l-8.40 8.40"/>
<path stroke="#111" stroke-width="1" d="M777.50 545.60 v8.40"/>
<path d="M915.00 538.00 l8.40 8.40 M923.40 538.00 l-8.40 8.40"/>
<path stroke="#111" stroke-width="1" d="M919.20 538.00 v8.40"/>
<path d="M937.55 548.90 l8.40 8.40 M945.95 548.90 l-8.40 8.40"/>
<path stroke="#111" stroke-width="1" d="M941.75 548.90 v8.40"/>
<path d="M225.40 601.70 l8.40 8.40 M233.80 601.70 l-8.40 8.40"/>
<path stroke="#111" stroke-width="1" d="M229.60 601.70 v8.40"/>
<path d="M328.30 562.90 l8.40 8.40 M336.70 562.90 l-8.40 8.40"/>
<path stroke="#111" stroke-width="1" d="M332.50 562.90 v8.40"/>
<path d="M677.05 565.50 l8.40 8.40 M685.45 565.50 l-8.40 8.40"/>
<path stroke="#111" stroke-width="1" d="M681.25 565.50 v8.40"/>
<path d="M772.70 662.30 l8.40 8.40 M781.10 662.30 l-8.40 8.40"/>
<path stroke="#111" stroke-width="1" d="M776.90 662.30 v8.40"/>
<path d="M913.20 639.20 l8.40 8.40 M921.60 639.20 l-8.40 8.40"/>
<path stroke="#111" stroke-width="1" d="M917.40 639.20 v8.40"/>
<path d="M935.50 656.20 l8.40 8.40 M943.90 656.20 l-8.40 8.40"/>
<path stroke="#111" stroke-width="1" d="M939.70 656.20 v8.40"/>
</g>
<text x="73.70" y="59.20" textLength="158.3" lengthAdjust="spacingAndGlyphs">LDPE/Treated CW</text>
<text x="74.70" y="181.30" textLength="175.5" lengthAdjust="spacingAndGlyphs">LDPE/Untreated CW</text>
<text x="74.60" y="294.50" textLength="52.0" lengthAdjust="spacingAndGlyphs">LDPE</text>
<text x="74.70" y="413.20" textLength="99.5" lengthAdjust="spacingAndGlyphs">Treated CW</text>
<text x="73.70" y="532.70" textLength="117.5" lengthAdjust="spacingAndGlyphs">Untreated CW</text>
<text x="207.20" y="115.00">3336</text>
<text x="353.70" y="189.20">2849</text>
<text x="337.95" y="207.80">2913</text>
<text x="684.30" y="134.70">1463</text>
<text x="787.50" y="144.40">1028</text>
<text x="835.70" y="163.10">718</text>
<text x="903.40" y="128.80">432</text>
<text x="925.50" y="181.20">333</text>
<text x="207.95" y="254.70">3334</text>
<text x="353.70" y="309.20">2849</text>
<text x="337.95" y="324.60">2913</text>
<text x="684.30" y="262.00">1461</text>
<text x="788.05" y="297.00">1027</text>
<text x="835.80" y="297.00">715</text>
<text x="902.60" y="280.60">434</text>
<text x="923.90" y="328.80">339</text>
<text x="353.70" y="425.60">2849</text>
<text x="337.95" y="442.30">2913</text>
<text x="684.10" y="371.50">1464</text>
<text x="834.70" y="391.25">720</text>
<text x="210.10" y="526.60">3330</text>
<text x="310.45" y="493.60">2902</text>
<text x="663.20" y="491.80">1428</text>
<text x="788.10" y="556.70">1025</text>
<text x="903.80" y="532.00">431</text>
<text x="924.30" y="573.60">338</text>
<text x="207.95" y="637.00">3332</text>
<text x="311.20" y="597.00">2897</text>
<text x="661.20" y="600.50">1430</text>
<text x="787.30" y="673.60">1029</text>
<text x="901.40" y="632.70">438</text>
<text x="923.60" y="681.40">343</text>
<text x="70.80" y="724.7" text-anchor="middle">4000</text>
<text x="189.70" y="724.7" text-anchor="middle">3500</text>
<text x="308.60" y="724.7" text-anchor="middle">3000</text>
<text x="427.50" y="724.7" text-anchor="middle">2500</text>
<text x="546.40" y="724.7" text-anchor="middle">2000</text>
<text x="665.30" y="724.7" text-anchor="middle">1500</text>
<text x="784.20" y="724.7" text-anchor="middle">1000</text>
<text x="903.10" y="724.7" text-anchor="middle">500</text>
<text class="b" x="428.8" y="756" letter-spacing="0.1">Wavenumber (cm<tspan x="583.6" y="745.6" font-size="13" letter-spacing="0">-1</tspan><tspan x="595" y="756">)</tspan></text>
<text class="b" transform="translate(28.5 371.2) rotate(-90)" textLength="35.4" lengthAdjust="spacingAndGlyphs">%T</text>
</svg></body></html>
